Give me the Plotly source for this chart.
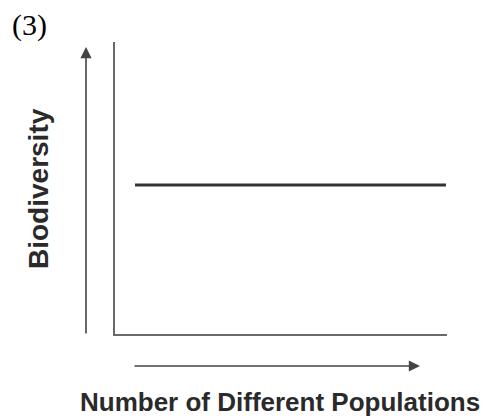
import plotly.graph_objects as go

# Data
populations = [1, 10]
biodiversity = [5, 5]

panel_label = "(3)"
x_title = "Number of Different Populations"
y_title = "Biodiversity"

fig = go.Figure()
fig.add_trace(go.Scatter(
    x=populations, y=biodiversity, mode="lines",
    line=dict(color="#333333", width=3), hoverinfo="skip", showlegend=False,
))

axis_common = dict(showgrid=False, zeroline=False, showticklabels=False, ticks="",
                   showline=True, linecolor="#6a6a6a", linewidth=2, fixedrange=True)
fig.update_xaxes(range=[0.42, 10.03], **axis_common)
fig.update_yaxes(range=[0, 9.8], **axis_common)

W, H = 492, 419
ml, mr, mt, mb = 115, 45, 42, 85
pw, ph = W - ml - mr, H - mt - mb

def px(x):
    return (x - ml) / pw

def py(y):
    return (H - mb - y) / ph

annotations = [
    # up arrow
    dict(x=px(86), y=py(47), xref="paper", yref="paper", ax=0, ay=288,
         showarrow=True, arrowhead=2, arrowsize=1.4, arrowwidth=1.6, arrowcolor="#444444", text=""),
    # right arrow
    dict(x=px(420), y=py(366), xref="paper", yref="paper", ax=-287, ay=0,
         showarrow=True, arrowhead=2, arrowsize=1.4, arrowwidth=1.6, arrowcolor="#444444", text=""),
    dict(x=px(38), y=py(189), xref="paper", yref="paper", text=y_title, textangle=-90,
         showarrow=False, xanchor="center", yanchor="middle",
         font=dict(family="Liberation Sans, Arial", size=28, color="#2a2a2a", weight="bold")),
    dict(x=px(280), y=py(402), xref="paper", yref="paper", text=x_title,
         showarrow=False, xanchor="center", yanchor="middle",
         font=dict(family="Liberation Sans, Arial", size=26, color="#2a2a2a", weight="bold")),
    dict(x=px(10), y=py(25), xref="paper", yref="paper", text=panel_label,
         showarrow=False, xanchor="left", yanchor="middle",
         font=dict(family="Liberation Serif, Times New Roman", size=30, color="#000000")),
]

fig.update_layout(
    width=W, height=H,
    margin=dict(l=ml, r=mr, t=mt, b=mb),
    paper_bgcolor="white", plot_bgcolor="white",
    annotations=annotations,
    showlegend=False,
)

fig.write_html("out.html", config={"displayModeBar": False},
               post_script="document.body.style.margin='0';document.body.style.overflow='hidden';")
